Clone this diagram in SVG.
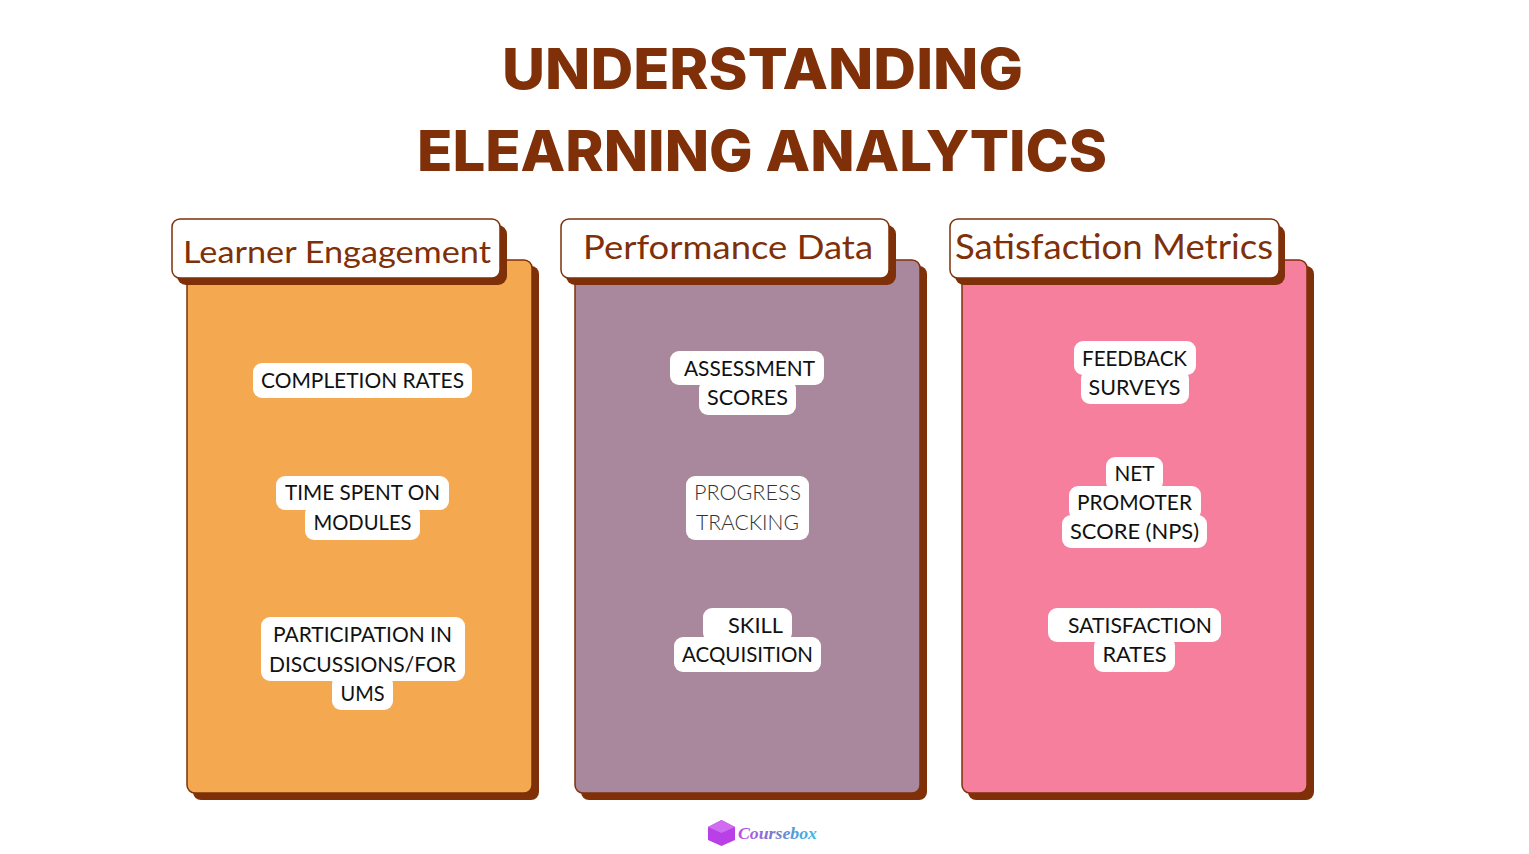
<svg xmlns="http://www.w3.org/2000/svg" width="1529" height="854" viewBox="0 0 1529 854">
<style>
.title{font-family:"Inter","Liberation Sans",sans-serif;font-weight:800;font-size:57px;fill:#7f3008}
.head{font-family:"Lato","Open Sans",sans-serif;font-weight:400;fill:#7f3008}
.item{font-family:"Lato","Open Sans",sans-serif;font-weight:400;font-size:21px;fill:#111;text-anchor:middle}
.pill{fill:#fff}
.shadow{fill:#7f3008}
.hbox{fill:#fff;stroke:#7f3008;stroke-width:1.500}
.card{stroke:#7f3008;stroke-width:1.500}
</style>
<defs>
<linearGradient id="lg" x1="0" y1="0" x2="1" y2="0"><stop offset="0" stop-color="#c04de8"/><stop offset="0.5" stop-color="#6f7fd0"/><stop offset="1" stop-color="#35c0e8"/></linearGradient>
</defs>
<rect width="1529" height="854" fill="#fff"/>
<g id="title">
<text class="title" x="502" y="89" textLength="521" lengthAdjust="spacingAndGlyphs">UNDERSTANDING</text>
<text class="title" x="417" y="171" textLength="690" lengthAdjust="spacingAndGlyphs">ELEARNING ANALYTICS</text>
</g>
<g id="card-engagement">
<rect class="shadow" x="193" y="266" width="346" height="534" rx="8"/>
<rect class="card" x="187" y="260" width="345" height="533" rx="8" fill="#f4a850"/>
<rect class="shadow" x="177" y="225" width="330" height="60" rx="9"/>
<rect class="hbox" x="172" y="219" width="328" height="59" rx="8"/>
<text class="head" x="183" y="263" font-size="31" textLength="308" lengthAdjust="spacingAndGlyphs">Learner Engagement</text>
<rect class="pill" x="253" y="363" width="219" height="35" rx="9"/>
<text class="item" x="362.500" y="388" textLength="203" lengthAdjust="spacingAndGlyphs">COMPLETION RATES</text>
<rect class="pill" x="276" y="476" width="173" height="34" rx="9"/>
<rect class="pill" x="305" y="505" width="115" height="35" rx="9"/>
<text class="item" x="362.500" y="500" textLength="155" lengthAdjust="spacingAndGlyphs">TIME SPENT ON</text>
<text class="item" x="362.500" y="530" textLength="98" lengthAdjust="spacingAndGlyphs">MODULES</text>
<rect class="pill" x="261" y="617" width="204" height="64" rx="9"/>
<rect class="pill" x="332" y="675" width="61" height="35" rx="9"/>
<text class="item" x="362.500" y="642" textLength="179" lengthAdjust="spacingAndGlyphs">PARTICIPATION IN</text>
<text class="item" x="362.500" y="672" textLength="187" lengthAdjust="spacingAndGlyphs">DISCUSSIONS/FOR</text>
<text class="item" x="362.500" y="701" textLength="44" lengthAdjust="spacingAndGlyphs">UMS</text>
</g>
<g id="card-performance">
<rect class="shadow" x="581" y="266" width="346" height="534" rx="8"/>
<rect class="card" x="575" y="260" width="345" height="533" rx="8" fill="#a9879d"/>
<rect class="shadow" x="566" y="225" width="330" height="60" rx="9"/>
<rect class="hbox" x="561" y="219" width="328" height="59" rx="8"/>
<text class="head" x="583" y="259" font-size="33" textLength="290" lengthAdjust="spacingAndGlyphs">Performance Data</text>
<rect class="pill" x="670" y="351" width="154" height="34" rx="9"/>
<rect class="pill" x="699" y="380" width="97" height="35" rx="9"/>
<text class="item" x="749.500" y="376" textLength="131" lengthAdjust="spacingAndGlyphs">ASSESSMENT</text>
<text class="item" x="747.500" y="405" textLength="81" lengthAdjust="spacingAndGlyphs">SCORES</text>
<rect class="pill" x="686" y="476" width="123" height="64" rx="9"/>
<text class="item" x="747.500" y="500" textLength="107" lengthAdjust="spacingAndGlyphs" style="font-weight:300;fill:#333">PROGRESS</text>
<text class="item" x="747.500" y="530" textLength="103" lengthAdjust="spacingAndGlyphs" style="font-weight:300;fill:#333">TRACKING</text>
<rect class="pill" x="703" y="608" width="89" height="34" rx="9"/>
<rect class="pill" x="674" y="637" width="147" height="35" rx="9"/>
<text class="item" x="755.500" y="633" textLength="55" lengthAdjust="spacingAndGlyphs">SKILL</text>
<text class="item" x="747.500" y="662" textLength="131" lengthAdjust="spacingAndGlyphs">ACQUISITION</text>
</g>
<g id="card-satisfaction">
<rect class="shadow" x="968" y="266" width="346" height="534" rx="8"/>
<rect class="card" x="962" y="260" width="345" height="533" rx="8" fill="#f67f9e"/>
<rect class="shadow" x="955" y="225" width="330" height="60" rx="9"/>
<rect class="hbox" x="950" y="219" width="329" height="59" rx="8"/>
<text class="head" x="955" y="259" font-size="34" textLength="318" lengthAdjust="spacingAndGlyphs">Satisfaction Metrics</text>
<rect class="pill" x="1074" y="341" width="122" height="34" rx="9"/>
<rect class="pill" x="1081" y="370" width="108" height="34" rx="9"/>
<text class="item" x="1134.500" y="366" textLength="105" lengthAdjust="spacingAndGlyphs">FEEDBACK</text>
<text class="item" x="1134.500" y="395" textLength="92" lengthAdjust="spacingAndGlyphs">SURVEYS</text>
<rect class="pill" x="1106" y="457" width="57" height="34" rx="9"/>
<rect class="pill" x="1069" y="486" width="132" height="34" rx="9"/>
<rect class="pill" x="1062" y="515" width="145" height="33" rx="9"/>
<text class="item" x="1134.500" y="481" textLength="40" lengthAdjust="spacingAndGlyphs">NET</text>
<text class="item" x="1134.500" y="510" textLength="115" lengthAdjust="spacingAndGlyphs">PROMOTER</text>
<text class="item" x="1134.500" y="539" textLength="129" lengthAdjust="spacingAndGlyphs">SCORE (NPS)</text>
<rect class="pill" x="1048" y="608" width="173" height="34" rx="9"/>
<rect class="pill" x="1094" y="637" width="81" height="35" rx="9"/>
<text class="item" x="1140" y="633" textLength="144" lengthAdjust="spacingAndGlyphs">SATISFACTION</text>
<text class="item" x="1134.500" y="662" textLength="64" lengthAdjust="spacingAndGlyphs">RATES</text>
</g>
<g id="logo">
<polygon points="721.500,820 735,827 735,840 721.500,846 708,840 708,827" fill="#b93fe6"/>
<polygon points="721.500,820 735,827 721.500,833 708,827" fill="#cf6cf0"/>
<text x="738" y="839" font-family="'Liberation Serif',serif" font-style="italic" font-weight="700" font-size="17" fill="url(#lg)" textLength="79" lengthAdjust="spacingAndGlyphs">Coursebox</text>
</g>
</svg>
